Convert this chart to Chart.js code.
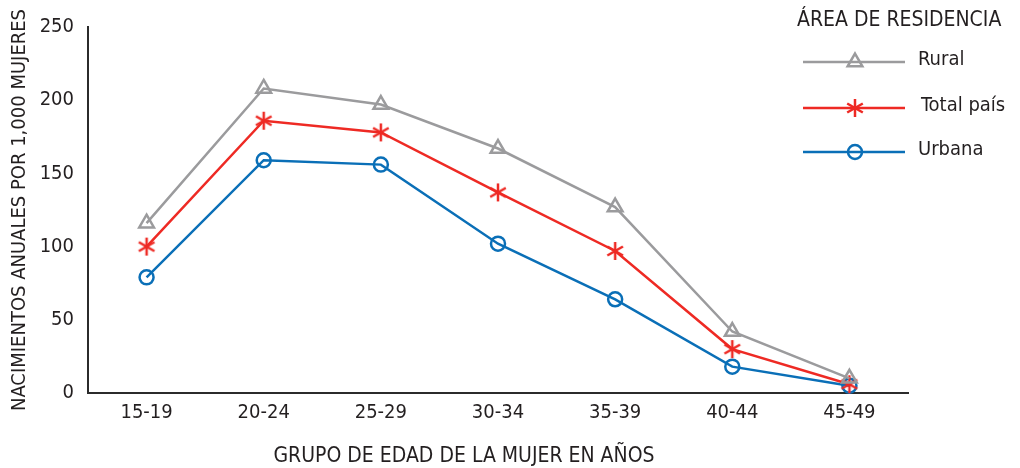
<!DOCTYPE html>
<html>
<head>
<meta charset="utf-8">
<script src="https://cdn.jsdelivr.net/npm/chart.js@4.4.1/dist/chart.umd.min.js"></script>
<style>
  html, body { margin: 0; padding: 0; background: #fff; }
  #wrap { width: 1020px; height: 468px; position: relative; }
</style>
</head>
<body>
<div id="wrap"><canvas id="c" width="1020" height="468"></canvas></div>
<script>
const categories = ['15-19', '20-24', '25-29', '30-34', '35-39', '40-44', '45-49'];
const rural = [116, 208, 197, 167, 127, 42, 10];
const totalPais = [100, 186, 178, 137, 97, 30, 6];
const urbana = [79, 159, 156, 102, 64, 18, 5];
const yTicks = [0, 50, 100, 150, 200, 250];
const seriesNames = ['Rural', 'Total país', 'Urbana'];
const legendTitle = 'ÁREA DE RESIDENCIA';
const xTitle = 'GRUPO DE EDAD DE LA MUJER EN AÑOS';
const yTitle = 'NACIMIENTOS ANUALES POR 1,000 MUJERES';

const FONT = "'DejaVu Sans Condensed', 'Liberation Sans Narrow', 'Liberation Sans', sans-serif";
const GRAY = '#9b9b9d', RED = '#ee2a24', BLUE = '#0a6fb7', AXIS = '#2b2b2b', TEXT = '#231f20';

function makeAsterisk(color) {
  const c = document.createElement('canvas');
  c.width = 22; c.height = 22;
  const g = c.getContext('2d');
  g.strokeStyle = color; g.lineWidth = 2.5; g.lineCap = 'butt';
  const r = 9;
  for (const a of [90, 30, 150]) {
    const t = a * Math.PI / 180;
    g.beginPath();
    g.moveTo(11 - r * Math.cos(t), 11 - r * Math.sin(t));
    g.lineTo(11 + r * Math.cos(t), 11 + r * Math.sin(t));
    g.stroke();
  }
  return c;
}
const asterisk = makeAsterisk(RED);

const legendPlugin = {
  id: 'customLegend',
  afterDraw(chart) {
    const ctx = chart.ctx;
    ctx.save();
    ctx.fillStyle = TEXT;
    ctx.textBaseline = 'middle';
    ctx.textAlign = 'center';
    ctx.font = "21px " + FONT;
    ctx.fillText(xTitle, 464, 457);
    ctx.textAlign = 'left';
    ctx.font = "21px " + FONT;
    ctx.fillText(legendTitle, 797, 21);
    const rows = [62, 108, 152];
    const textX = [918, 921, 918];
    chart.data.datasets.forEach((ds, i) => {
      const y = rows[i];
      ctx.strokeStyle = ds.borderColor;
      ctx.lineWidth = 2.5;
      ctx.beginPath();
      ctx.moveTo(803, y); ctx.lineTo(905, y);
      ctx.stroke();
      ctx.fillStyle = 'rgba(0,0,0,0)';
      ctx.strokeStyle = ds.borderColor;
      ctx.lineWidth = ds.pointBorderWidth;
      Chart.helpers.drawPoint(ctx, {
        pointStyle: ds.pointStyle, radius: ds.pointRadius, rotation: 0, borderWidth: ds.pointBorderWidth
      }, 855, y);
      ctx.fillStyle = TEXT;
      ctx.font = "20px " + FONT;
      ctx.fillText(ds.label, textX[i], y - 2);
    });
    ctx.restore();
  }
};

const common = { borderWidth: 2.5, pointBorderWidth: 2.5, pointBackgroundColor: 'rgba(0,0,0,0)', tension: 0, clip: false };

new Chart(document.getElementById('c'), {
  type: 'line',
  data: {
    labels: categories,
    datasets: [
      Object.assign({ label: seriesNames[0], data: rural, borderColor: GRAY, pointBorderColor: GRAY, pointStyle: 'triangle', pointRadius: 8.5 }, common),
      Object.assign({ label: seriesNames[1], data: totalPais, borderColor: RED, pointBorderColor: RED, pointStyle: asterisk, pointRadius: 9 }, common),
      Object.assign({ label: seriesNames[2], data: urbana, borderColor: BLUE, pointBorderColor: BLUE, pointStyle: 'circle', pointRadius: 7 }, common)
    ]
  },
  options: {
    responsive: false,
    animation: false,
    devicePixelRatio: 1,
    layout: { padding: { left: 0, right: 112, top: 27, bottom: 0 } },
    plugins: { legend: { display: false }, tooltip: { enabled: false } },
    scales: {
      x: {
        offset: true,
        grid: { display: false, drawTicks: false },
        border: { display: true, color: AXIS, width: 2 },
        ticks: { color: TEXT, font: { family: FONT, size: 20 }, padding: 8, maxRotation: 0 },
        afterFit(s) { s.height = 75; }
      },
      y: {
        min: 0, max: 250,
        afterBuildTicks(s) { s.ticks = yTicks.map(v => ({ value: v })); },
        grid: { display: false, drawTicks: false },
        border: { display: true, color: AXIS, width: 2 },
        ticks: { color: TEXT, font: { family: FONT, size: 20 }, padding: 14 },
        title: { display: true, text: yTitle, color: TEXT, font: { family: FONT, size: 20 }, padding: { top: 8, bottom: 0 } },
        afterFit(s) { s.width = 88; }
      }
    }
  },
  plugins: [legendPlugin]
});
</script>
</body>
</html>
